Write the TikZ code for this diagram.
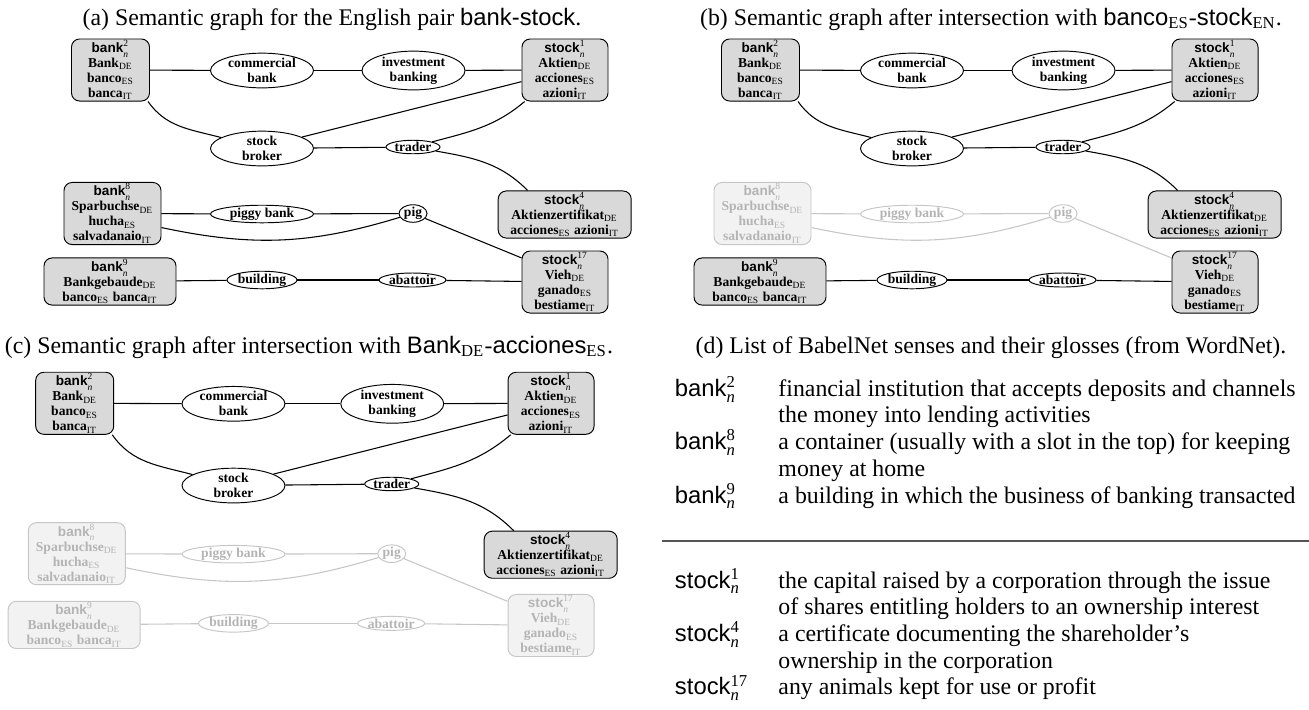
\documentclass[tikz,border=0pt]{standalone}
\usepackage{amsmath}
\usepackage{fontspec}
\setmainfont{Liberation Serif}
\setsansfont{Liberation Sans}
\usetikzlibrary{shapes.geometric}
\definecolor{boxfill}{HTML}{D9D9D9}
\definecolor{fadeline}{HTML}{C6C6C6}
\definecolor{fadetext}{HTML}{B4B4B4}
\definecolor{fadefill}{HTML}{F2F2F2}
\definecolor{rulegray}{HTML}{555555}
\newlength{\unitpx}\setlength{\unitpx}{0.42pt}
\newcommand{\nodefont}{\fontsize{5.7}{6.3}\selectfont\bfseries}
\newcommand{\capfont}{\fontsize{10}{12}\selectfont}
\newcommand{\lng}[1]{\textsubscript{\mdseries #1}}
\newcommand{\sense}[2]{\textsf{#1}$^{\text{\mdseries #2}}_{\text{\mdseries\itshape n}}$}

\newcommand{\semgraph}[1]{%
  \node[syn,minimum width=78*\unitpx,minimum height=59*\unitpx] (#1bank2) at (110.5,70) {\sense{bank}{2}\\Bank\lng{DE}\\banco\lng{ES}\\banca\lng{IT}};
  \node[con,minimum width=103*\unitpx,minimum height=33*\unitpx] (#1comm) at (262,70.5) {commercial\\bank};
  \node[con,minimum width=103*\unitpx,minimum height=33*\unitpx] (#1inv) at (413.5,70.5) {investment\\banking};
  \node[syn,minimum width=86*\unitpx,minimum height=59*\unitpx] (#1stock1) at (565,70) {\sense{stock}{1}\\Aktien\lng{DE}\\acciones\lng{ES}\\azioni\lng{IT}};
  \node[con,minimum width=103*\unitpx,minimum height=31*\unitpx] (#1broker) at (262,148.5) {stock\\broker};
  \node[con,minimum width=54*\unitpx,minimum height=12*\unitpx] (#1trader) at (413,147) {trader};
  \node[syn,pigsyn,minimum width=97*\unitpx,minimum height=59*\unitpx] (#1bank8) at (112.5,213.5) {\sense{bank}{8}\\Sparbuchse\lng{DE}\\hucha\lng{ES}\\salvadanaio\lng{IT}};
  \node[con,pig,minimum width=103*\unitpx,minimum height=14*\unitpx] (#1piggy) at (262,214) {piggy bank};
  \node[con,pig,minimum width=28*\unitpx,minimum height=15*\unitpx] (#1pig) at (413,213.5) {pig};
  \node[syn,minimum width=133*\unitpx,minimum height=45*\unitpx] (#1stock4) at (564.7,214.5) {\sense{stock}{4}\\Aktienzertifikat\lng{DE}\\acciones\lng{ES} azioni\lng{IT}};
  \node[syn,bldsyn,minimum width=132*\unitpx,minimum height=45*\unitpx] (#1bank9) at (110,281.5) {\sense{bank}{9}\\Bankgebaude\lng{DE}\\banco\lng{ES} banca\lng{IT}};
  \node[con,bld,minimum width=70*\unitpx,minimum height=14*\unitpx] (#1build) at (262,280) {building};
  \node[con,bld,minimum width=67*\unitpx,minimum height=14*\unitpx] (#1abat) at (412.5,280) {abattoir};
  \node[syn,bldsyn,minimum width=86*\unitpx,minimum height=60*\unitpx] (#1stock17) at (565,282) {\sense{stock}{17}\\Vieh\lng{DE}\\ganado\lng{ES}\\bestiame\lng{IT}};
  \draw[link] (#1bank2) -- (#1comm);
  \draw[link] (#1comm) -- (#1inv);
  \draw[link] (#1inv) -- (#1stock1);
  \draw[link] (#1bank2.-40) to[out=-55,in=165] (#1broker.165);
  \draw[link] (#1broker.16) -- (#1stock1.195);
  \draw[link] (#1broker) -- (#1trader);
  \draw[link] (#1trader.15) to[out=15,in=-140] (#1stock1.218);
  \draw[link] (#1trader.-10) to[out=-10,in=135] (#1stock4.147);
  \draw[link,pig] (#1bank8) -- (#1piggy);
  \draw[link,pig] (#1piggy) -- (#1pig);
  \draw[link,pig] (#1bank8.-16) to[out=-12,in=197] (#1pig.196);
  \draw[link,pig] (#1pig) -- (#1stock17.151);
  \draw[link,bld] (#1bank9) -- (#1build);
  \draw[link,bld] (#1build) -- (#1abat);
  \draw[link,bld] (#1abat) -- (#1stock17);
}

\begin{document}
\begin{tikzpicture}[x=\unitpx,y=-\unitpx,
  syn/.style={draw,fill=boxfill,rounded corners=3.4pt,align=center,inner sep=0.5pt,font=\nodefont,line width=0.4pt},
  con/.style={draw,ellipse,fill=white,inner sep=0pt,align=center,font=\nodefont,line width=0.4pt},
  link/.style={line width=0.45pt},
  subcap/.style={anchor=base,font=\capfont,inner sep=0pt},
  gloss/.style={anchor=base west,font=\capfont,inner sep=0pt},
  pig/.style={},pigsyn/.style={},bld/.style={},bldsyn/.style={},
  faded/.style={draw=fadeline,text=fadetext},
  fadedsyn/.style={draw=fadeline,text=fadetext,fill=fadefill}
]
\useasboundingbox (0,0) rectangle (1309,709);

\node[subcap] (capa) at (332,25) {(a) Semantic graph for the English pair \textsf{bank-stock}.};
\semgraph{a}

\node[subcap] (capb) at (991,25) {(b) Semantic graph after intersection with \textsf{banco}\lng{ES}-\textsf{stock}\lng{EN}.};
\begin{scope}[xshift=650*\unitpx,pig/.style={faded},pigsyn/.style={fadedsyn}]
  \semgraph{b}
\end{scope}

\node[subcap] (capc) at (309,353) {(c) Semantic graph after intersection with \textsf{Bank}\lng{DE}-\textsf{acciones}\lng{ES}.};
\begin{scope}[x=1.048*\unitpx,y=-1.048*\unitpx,shift={(-17.26pt,-138.56pt)},
  pig/.style={faded},pigsyn/.style={fadedsyn},bld/.style={faded},bldsyn/.style={fadedsyn}]
  \semgraph{c}
\end{scope}

\node[subcap] (capd) at (991,353) {(d) List of BabelNet senses and their glosses (from WordNet).};
\foreach \yy/\w/\s [count=\i] in {396.2/bank/2,449.6/bank/8,503/bank/9,588/stock/1,641.4/stock/4,694.8/stock/17}
  \node[gloss] (sense\i) at (674.5,\yy) {\sense{\w}{\s}};
\foreach \yy/\txt [count=\i] in {396.2/{financial institution that accepts deposits and channels},
  422.9/{the money into lending activities},
  449.6/{a container (usually with a slot in the top) for keeping},
  476.3/{money at home},
  503/{a building in which the business of banking transacted},
  588/{the capital raised by a corporation through the issue},
  614.7/{of shares entitling holders to an ownership interest},
  641.4/{a certificate documenting the shareholder's},
  668.1/{ownership in the corporation},
  694.8/{any animals kept for use or profit}}
  \node[gloss] (gloss\i) at (778,\yy) {\txt};
\coordinate (rulel) at (662,541);
\coordinate (ruler) at (1309,541);
\draw[rulegray,line width=0.6pt] (rulel) -- (ruler);
\end{tikzpicture}
\end{document}
